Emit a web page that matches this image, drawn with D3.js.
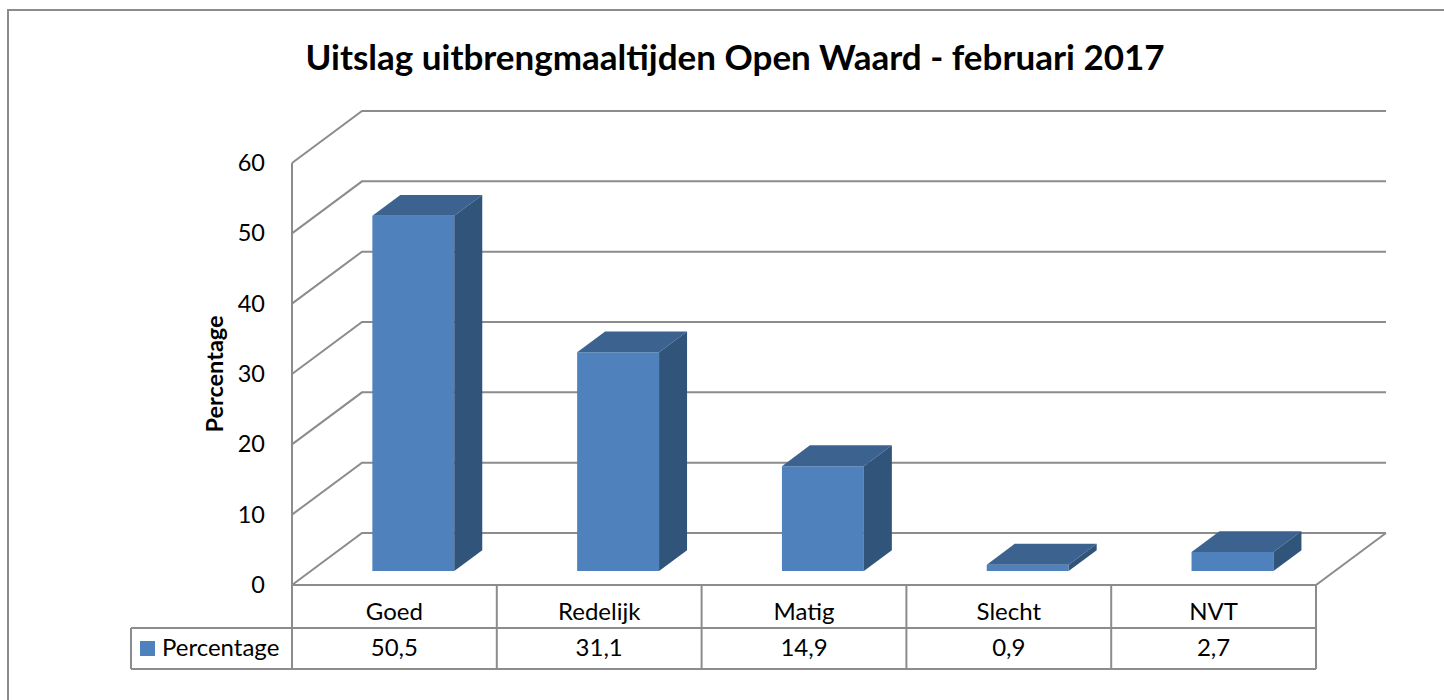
<!DOCTYPE html>
<html>
<head>
<meta charset="utf-8">
<script src="https://cdn.jsdelivr.net/npm/d3@7"></script>
<style>
    body { margin: 0; background: #fff; }
    svg { display: block; font-family: Lato, "Open Sans", sans-serif; }
</style>
</head>
<body>
<svg width="1444" height="700"></svg>
<script>
// chart data
const title = "Uitslag uitbrengmaaltijden Open Waard - februari 2017";
const seriesName = "Percentage";
const categories = ["Goed", "Redelijk", "Matig", "Slecht", "NVT"];
const values = [50.5, 31.1, 14.9, 0.9, 2.7];
const valueLabels = ["50,5", "31,1", "14,9", "0,9", "2,7"];
const yTicks = [0, 10, 20, 30, 40, 50, 60];

function render_chart()
{
    const svg = d3.select("svg");

    const color_grid = "#8c8c8c";
    const color_front = "#4f81bd";
    const color_top = "#3c6390";
    const color_side = "#31547b";

    // depth of the 3D box in pixels, bars sit between depth fractions
    const depth = {dx: 70, dy: -52};
    const bar_depth = [0.27, 0.67];
    function proj(px, py, d)
    {
        return [px + d * depth.dx, py + d * depth.dy];
    }

    const x = d3.scaleBand()
        .domain(categories)
        .range([292, 1316])
        .paddingInner(0.6)
        .paddingOuter(0.3);
    const band = d3.scaleBand()
        .domain(categories)
        .range([292, 1316]);
    const y = d3.scaleLinear()
        .domain([0, 60])
        .range([585, 163]);

    // outer frame
    svg.append("rect")
        .attr("x", 8).attr("y", 10)
        .attr("width", 1460).attr("height", 720)
        .attr("fill", "none")
        .attr("stroke", color_grid)
        .attr("stroke-width", 2);

    svg.append("text")
        .attr("x", 735)
        .attr("y", 70)
        .attr("text-anchor", "middle")
        .attr("font-size", 35)
        .attr("font-weight", "bold")
        .text(title);

    // grid: back wall lines and side wall diagonals
    const grid = svg.append("g")
        .attr("stroke", color_grid)
        .attr("stroke-width", 2)
        .attr("fill", "none");
    const x0 = band.range()[0], x1 = band.range()[1];
    grid.selectAll("path.grid")
        .data(yTicks)
        .join("path")
            .attr("class", "grid")
            .attr("d", t => {
                const a = [x0, y(t)];
                const b = proj(x0, y(t), 1);
                const c = proj(x1, y(t), 1);
                return d3.line()([a, b, c]);
            });
    // floor
    grid.append("path")
        .attr("d", d3.line()([[x0, y(0)], [x1, y(0)], proj(x1, y(0), 1)]));
    grid.append("path")
        .attr("d", d3.line()([[x0, y(60)], [x0, 669]]));

    // y axis labels
    svg.append("g")
        .attr("transform", `translate(${x0},0)`)
        .call(d3.axisLeft(y).tickValues(yTicks).tickSize(0).tickPadding(27))
        .call(g => g.select(".domain").remove())
        .call(g => g.selectAll("text")
            .attr("font-family", "Lato, 'Open Sans', sans-serif")
            .attr("font-size", 23.5)
            .attr("fill", "#000"));

    svg.append("text")
        .attr("transform", `translate(223,${y(30)}) rotate(-90)`)
        .attr("text-anchor", "middle")
        .attr("font-size", 23.5)
        .attr("font-weight", "bold")
        .text(seriesName);

    // bars
    const bars = svg.append("g")
        .selectAll("g")
        .data(categories.map((c, i) => ({c, v: values[i]})))
        .join("g");
    bars.each(function(d) {
        const g = d3.select(this);
        const l = x(d.c), r = x(d.c) + x.bandwidth();
        const b = y(0), t = y(d.v);
        const [d0, d1] = bar_depth;
        const fl = proj(l, t, d0), fr = proj(r, t, d0);
        const br = proj(r, b, d0);
        const bl = proj(l, b, d0);
        const tl2 = proj(l, t, d1), tr2 = proj(r, t, d1), br2 = proj(r, b, d1);
        g.append("path").attr("fill", color_front)
            .attr("d", d3.line()([fl, fr, br, bl]) + "Z");
        g.append("path").attr("fill", color_top)
            .attr("d", d3.line()([fl, tl2, tr2, fr]) + "Z");
        g.append("path").attr("fill", color_side)
            .attr("d", d3.line()([fr, tr2, br2, br]) + "Z");
    });

    // data table
    const table = svg.append("g")
        .attr("stroke", color_grid)
        .attr("stroke-width", 2);
    table.selectAll("line.h")
        .data([628, 669])
        .join("line")
            .attr("x1", 131).attr("x2", x1)
            .attr("y1", d => d).attr("y2", d => d);
    table.selectAll("line.v")
        .data(categories)
        .join("line")
            .attr("x1", d => band(d) + band.bandwidth())
            .attr("x2", d => band(d) + band.bandwidth())
            .attr("y1", y(0)).attr("y2", 669);
    table.append("line")
        .attr("x1", 131).attr("x2", 131)
        .attr("y1", 628).attr("y2", 669);

    svg.append("g")
        .attr("font-size", 24)
        .attr("text-anchor", "middle")
        .selectAll("text")
        .data(categories)
        .join("text")
            .attr("x", d => band(d) + band.bandwidth() / 2)
            .attr("y", 620)
            .text(d => d);

    svg.append("g")
        .attr("font-size", 24)
        .attr("text-anchor", "middle")
        .selectAll("text")
        .data(valueLabels)
        .join("text")
            .attr("x", (d, i) => band(categories[i]) + band.bandwidth() / 2)
            .attr("y", 656)
            .text(d => d);

    svg.append("rect")
        .attr("x", 140).attr("y", 641)
        .attr("width", 15).attr("height", 15)
        .attr("fill", color_front);
    svg.append("text")
        .attr("x", 162)
        .attr("y", 656)
        .attr("font-size", 24)
        .text(seriesName);
}

render_chart();
</script>
</body>
</html>
